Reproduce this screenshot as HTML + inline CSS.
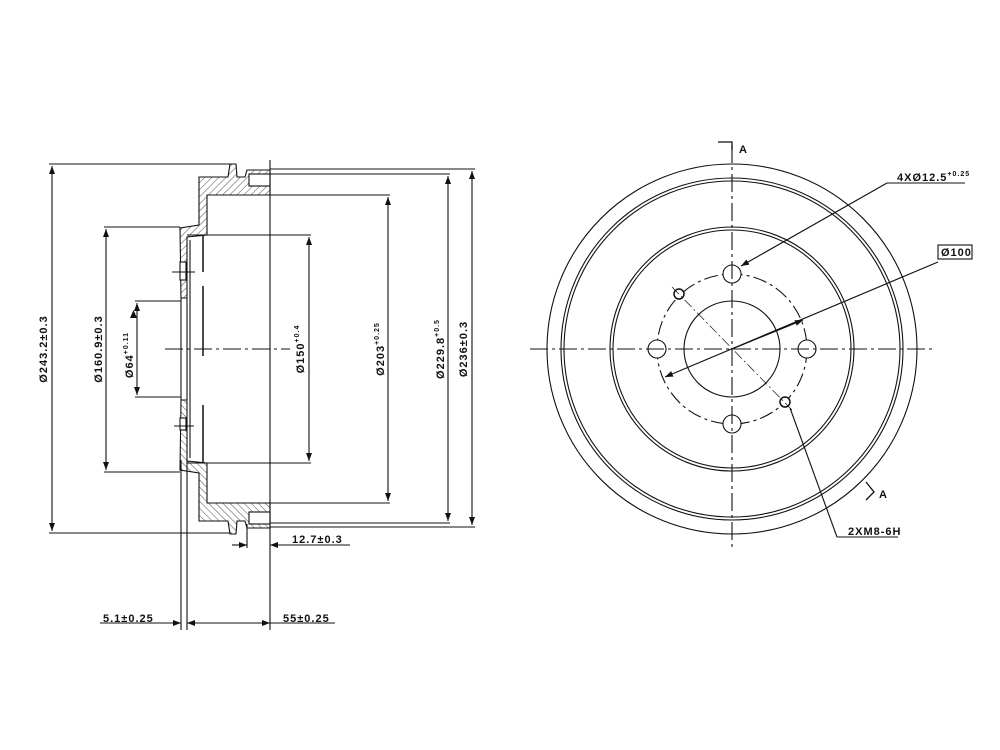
<!DOCTYPE html>
<html><head><meta charset="utf-8"><style>
html,body{margin:0;padding:0;background:#fff;}
svg{display:block;}
text{font-family:"Liberation Sans",sans-serif;font-size:11px;fill:#111;font-weight:bold;letter-spacing:1px;}
</style></head><body>
<svg width="1000" height="750" viewBox="0 0 1000 750" xmlns="http://www.w3.org/2000/svg">
<defs>
<pattern id="h" width="5" height="5" patternUnits="userSpaceOnUse" patternTransform="rotate(45)">
<rect width="5" height="5" fill="#fff"/><line x1="0" y1="0" x2="0" y2="5" stroke="#222" stroke-width="0.8"/>
</pattern>
<marker id="a" markerWidth="8" markerHeight="6" refX="8" refY="3" orient="auto-start-reverse" markerUnits="userSpaceOnUse">
<path d="M0,0 L8,3 L0,6 Z" fill="#111"/></marker>
</defs>
<g stroke="#111" stroke-width="1.1" fill="none">
<path d="M199,177 L228,177 L230,164 L236,164 L237,177 L245,177 L247,170 L270,170 L270,195 L207,195 L207,235 L187,237 L187,298 L181,298 L180,228 L199,225 Z" fill="url(#h)"/>
<g transform="translate(0,698) scale(1,-1)">
<path d="M199,177 L228,177 L230,164 L236,164 L237,177 L245,177 L247,170 L270,170 L270,195 L207,195 L207,235 L187,237 L187,298 L181,298 L180,228 L199,225 Z" fill="url(#h)"/>
</g>
<rect x="249" y="174" width="21" height="12" fill="#fff"/>
<rect x="249" y="512" width="21" height="12" fill="#fff"/>
<rect x="180" y="262" width="6" height="18" fill="#fff"/>
<rect x="180" y="418" width="6" height="12" fill="#fff"/>
<line x1="181" y1="298" x2="181" y2="400"/>
<line x1="187" y1="298" x2="187" y2="400"/>
<line x1="190" y1="240" x2="190" y2="458"/>
<line x1="203" y1="235" x2="203" y2="272" stroke-width="1.5"/>
<line x1="203" y1="286" x2="203" y2="356" stroke-width="1.5"/>
<line x1="203" y1="405" x2="203" y2="463" stroke-width="1.5"/>
<line x1="270" y1="160" x2="270" y2="630"/>
<line x1="181" y1="460" x2="181" y2="630"/>
<line x1="187" y1="460" x2="187" y2="630"/>
<line x1="247" y1="524" x2="247" y2="548"/>
<line x1="49" y1="164" x2="230" y2="164"/>
<line x1="49" y1="533" x2="230" y2="533"/>
<line x1="104" y1="227" x2="180" y2="227"/>
<line x1="104" y1="472" x2="180" y2="472"/>
<line x1="135" y1="301" x2="181" y2="301"/>
<line x1="135" y1="397" x2="181" y2="397"/>
<line x1="187" y1="235" x2="311" y2="235"/>
<line x1="187" y1="463" x2="311" y2="463"/>
<line x1="270" y1="195" x2="390" y2="195"/>
<line x1="270" y1="503" x2="390" y2="503"/>
<line x1="270" y1="174" x2="450" y2="174"/>
<line x1="270" y1="523" x2="450" y2="523"/>
<line x1="270" y1="169" x2="475" y2="169"/>
<line x1="270" y1="527" x2="475" y2="527"/>
<line x1="52" y1="166" x2="52" y2="531" marker-start="url(#a)" marker-end="url(#a)"/>
<line x1="106" y1="229" x2="106" y2="470" marker-start="url(#a)" marker-end="url(#a)"/>
<line x1="137" y1="303" x2="137" y2="395" marker-start="url(#a)" marker-end="url(#a)"/>
<line x1="309" y1="237" x2="309" y2="461" marker-start="url(#a)" marker-end="url(#a)"/>
<line x1="388" y1="197" x2="388" y2="501" marker-start="url(#a)" marker-end="url(#a)"/>
<line x1="448" y1="176" x2="448" y2="521" marker-start="url(#a)" marker-end="url(#a)"/>
<line x1="472" y1="171" x2="472" y2="525" marker-start="url(#a)" marker-end="url(#a)"/>
<line x1="232" y1="545" x2="247" y2="545" marker-end="url(#a)"/>
<line x1="350" y1="545" x2="270" y2="545" marker-end="url(#a)"/>
<line x1="100" y1="623" x2="181" y2="623" marker-end="url(#a)"/>
<line x1="187" y1="623" x2="270" y2="623" marker-start="url(#a)" marker-end="url(#a)"/>
<line x1="270" y1="623" x2="335" y2="623"/>
<line x1="165" y1="349" x2="290" y2="349" stroke-dasharray="18,4,3,4"/>
<line x1="172" y1="272" x2="195" y2="272"/>
<line x1="174" y1="426" x2="194" y2="426"/>

<circle cx="732" cy="349" r="185"/>
<circle cx="732" cy="349" r="171"/>
<circle cx="732" cy="349" r="168"/>
<circle cx="732" cy="349" r="122"/>
<circle cx="732" cy="349" r="119"/>
<circle cx="732" cy="349" r="48"/>
<circle cx="732" cy="349" r="75" stroke-dasharray="14,4,3,4"/>
<circle cx="732" cy="274" r="9" fill="#fff"/>
<circle cx="732" cy="424" r="9" fill="#fff"/>
<circle cx="657" cy="349" r="9" fill="#fff"/>
<circle cx="807" cy="349" r="9" fill="#fff"/>
<circle cx="679" cy="294" r="5" fill="#fff" stroke-width="1.5"/>
<circle cx="785" cy="402" r="5" fill="#fff" stroke-width="1.5"/>
<line x1="530" y1="349" x2="935" y2="349" stroke-dasharray="18,4,3,4"/>
<line x1="732" y1="145" x2="732" y2="550" stroke-dasharray="18,4,3,4"/>
<line x1="672" y1="287" x2="792" y2="410" stroke-width="0.7" stroke-dasharray="10,3,2,3"/>
<line x1="887" y1="183" x2="741" y2="266" marker-end="url(#a)"/>
<line x1="887" y1="183" x2="965" y2="183"/>
<rect x="938" y="245" width="34" height="14" fill="#fff"/>
<line x1="938" y1="262" x2="665" y2="377" marker-end="url(#a)"/>
<line x1="732" y1="349" x2="803" y2="320" marker-end="url(#a)"/>
<line x1="790" y1="408" x2="837" y2="537"/>
<line x1="837" y1="537" x2="898" y2="537"/>
<polyline points="718,142 732,142 732,150" stroke-width="1.3"/>
<polyline points="866,482 874,492 866,500" stroke-width="1.3"/>
</g>
<polygon points="130,318 137,318 133.5,310" fill="#111"/>
<text transform="translate(47,349) rotate(-90)" text-anchor="middle">Ø243.2±0.3</text>
<text transform="translate(102,349) rotate(-90)" text-anchor="middle">Ø160.9±0.3</text>
<text transform="translate(133,355) rotate(-90)" text-anchor="middle">Ø64<tspan font-size="7" dy="-5">+0.11</tspan></text>
<text transform="translate(304,349) rotate(-90)" text-anchor="middle">Ø150<tspan font-size="7" dy="-5">+0.4</tspan></text>
<text transform="translate(384,349) rotate(-90)" text-anchor="middle">Ø203<tspan font-size="7" dy="-5">+0.25</tspan></text>
<text transform="translate(444,349) rotate(-90)" text-anchor="middle">Ø229.8<tspan font-size="7" dy="-5">+0.5</tspan></text>
<text transform="translate(467,349) rotate(-90)" text-anchor="middle">Ø236±0.3</text>
<text x="292" y="543">12.7±0.3</text>
<text x="103" y="622">5.1±0.25</text>
<text x="283" y="622">55±0.25</text>
<text x="897" y="181" font-size="10">4XØ12.5<tspan font-size="7" dy="-5">+0.25</tspan></text>
<text x="941" y="256" font-size="10">Ø100</text>
<text x="848" y="535" font-size="10">2XM8-6H</text>
<text x="739" y="153">A</text>
<text x="879" y="498">A</text>
</svg>
</body></html>
